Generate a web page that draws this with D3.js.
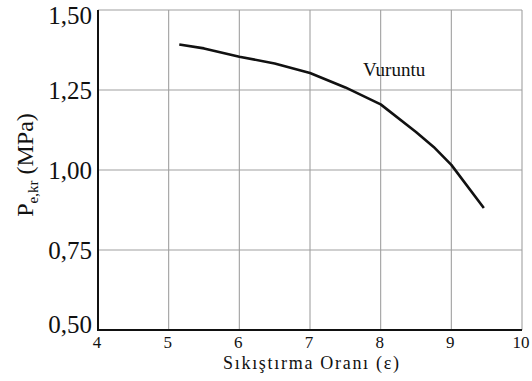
<!DOCTYPE html>
<html>
<head>
<meta charset="utf-8">
<script src="https://cdn.jsdelivr.net/npm/d3@7"></script>
<style>
  body { margin: 0; background: #fff; }
  text { font-family: "Liberation Serif", "Times New Roman", serif; fill: #111; }
</style>
</head>
<body>
<div id="canvas"></div>
<script>
// Chart data
var ratio = [5.15, 5.5, 6, 6.5, 7, 7.5, 8, 8.5, 8.75, 9, 9.46];
var pressure = [1.392, 1.380, 1.354, 1.333, 1.303, 1.258, 1.205, 1.119, 1.072, 1.016, 0.881];
var xTicks = [4, 5, 6, 7, 8, 9, 10];
var yTicks = [0.50, 0.75, 1.00, 1.25, 1.50];
var curveLabel = {text: "Vuruntu", x: 7.75, y: 1.294};

var w = 532, h = 381;
var margin = {top: 10, right: 10, bottom: 51, left: 98};

var svg = d3.select("#canvas")
    .append("svg")
    .attr("width", w)
    .attr("height", h);

var x = d3.scaleLinear()
    .domain([4, 10])
    .range([margin.left, w - margin.right]);

var y = d3.scaleLinear()
    .domain([0.5, 1.5])
    .range([h - margin.bottom, margin.top]);

// grid
svg.append("g")
    .selectAll("line")
    .data(xTicks.slice(1))
    .join("line")
    .attr("x1", d => x(d)).attr("x2", d => x(d))
    .attr("y1", y(0.5)).attr("y2", y(1.5))
    .attr("stroke", "#a0a0a0")
    .attr("stroke-width", 1.1);

svg.append("g")
    .selectAll("line")
    .data(yTicks.slice(1))
    .join("line")
    .attr("x1", x(4)).attr("x2", x(10))
    .attr("y1", d => y(d)).attr("y2", d => y(d))
    .attr("stroke", "#a0a0a0")
    .attr("stroke-width", 1.1);

// axes lines (left + bottom)
svg.append("path")
    .attr("d", `M${x(4)},${y(1.5)}V${y(0.5)}H${x(10)}`)
    .attr("fill", "none")
    .attr("stroke", "#111")
    .attr("stroke-width", 2);

// tick labels
svg.append("g")
    .selectAll("text")
    .data(yTicks)
    .join("text")
    .attr("x", x(4) - 6)
    .attr("y", d => y(d) + 9 + (d === 1.5 ? 5 : d === 0.5 ? -6 : 0))
    .attr("text-anchor", "end")
    .style("font-size", "25px")
    .text(d => d3.format(".2f")(d).replace(".", ","));

svg.append("g")
    .selectAll("text")
    .data(xTicks)
    .join("text")
    .attr("x", d => x(d) - 1)
    .attr("y", y(0.5) + 18)
    .attr("text-anchor", "middle")
    .style("font-size", "17px")
    .text(d => d);

// curve
var line = d3.line()
    .x((d, i) => x(ratio[i]))
    .y(d => y(d));

svg.append("path")
    .datum(pressure)
    .attr("d", line)
    .attr("fill", "none")
    .attr("stroke", "#111")
    .attr("stroke-width", 2.6)
    .attr("stroke-linejoin", "round");

svg.append("text")
    .attr("x", x(curveLabel.x))
    .attr("y", y(curveLabel.y))
    .style("font-size", "19px")
    .text(curveLabel.text);

// axis titles
svg.append("text")
    .attr("x", 311)
    .attr("y", h - 12)
    .attr("text-anchor", "middle")
    .attr("textLength", 176)
    .attr("lengthAdjust", "spacing")
    .style("font-size", "18px")
    .text("Sıkıştırma Oranı (ε)");

var yl = svg.append("text")
    .attr("transform", `translate(33,${165}) rotate(-90)`)
    .attr("text-anchor", "middle")
    .style("font-size", "24px");
yl.append("tspan").text("P");
yl.append("tspan").attr("dy", 5).style("font-size", "15px").text("e,kr");
yl.append("tspan").attr("dy", -5).text(" (MPa)");
</script>
</body>
</html>
